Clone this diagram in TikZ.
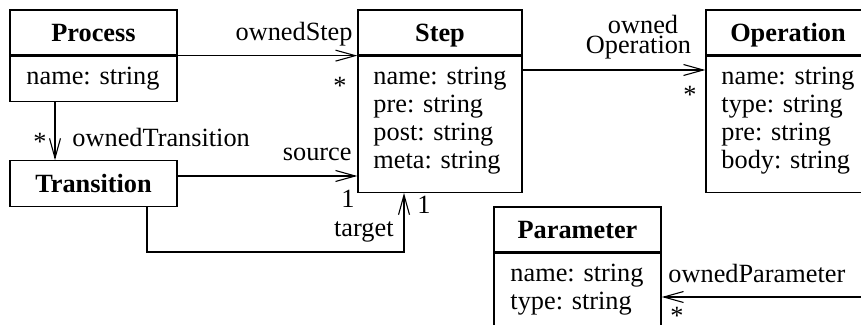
\documentclass[tikz,border=0pt]{standalone}
\usepackage{fontspec}
\setmainfont{Liberation Serif}
\usepackage{tikz}
\usetikzlibrary{arrows.meta,positioning}

\begin{document}
\begin{tikzpicture}[x=0.456pt, y=-0.456pt,
    every node/.style={font=\fontsize{12}{13}\selectfont},
    classhead/.style={draw, rectangle, line width=0.6pt, minimum height=20.5pt, text height=8.2pt, text depth=0pt, font=\fontsize{12}{13}\selectfont\bfseries},
    classbody/.style={draw, rectangle, line width=0.6pt, anchor=north},
    attr/.style={anchor=base west, inner sep=0pt},
    lbl/.style={inner sep=0pt},
    assoc/.style={line width=0.5pt, -{Straight Barb[length=9pt, width=5pt]}}]
    \useasboundingbox (0,0) rectangle (861,324);

    % Classes
    \node[classhead, minimum width=76.2pt] (process) at (93.5, 32.5) {Process};
    \node[classbody, minimum width=76.2pt, minimum height=20.5pt] (processbody) at (process.south) {};
    \node[attr] (processattr) at (26, 84) {name: string};

    \node[classhead, minimum width=76.2pt, minimum height=20.7pt] (transition) at (93.5, 183.5) {Transition};

    \node[classhead, minimum width=74.8pt] (step) at (440, 32.5) {Step};
    \node[classbody, minimum width=74.8pt, minimum height=62pt] (stepbody) at (step.south) {};
    \foreach \i/\a in {0/name, 1/pre, 2/post, 3/meta} {
        \node[attr] (stepattr\i) at (373, 84+28.3*\i) {\a: string};
    }

    \node[classhead, minimum width=74.8pt] (operation) at (788, 32.5) {Operation};
    \node[classbody, minimum width=74.8pt, minimum height=62pt] (opbody) at (operation.south) {};
    \foreach \i/\a in {0/name, 1/type, 2/pre, 3/body} {
        \node[attr] (opattr\i) at (721, 84+28.3*\i) {\a: string};
    }

    \node[classhead, minimum width=76.2pt] (parameter) at (577.5, 229.5) {Parameter};
    \node[classbody, minimum width=76.2pt, minimum height=38.8pt] (parambody) at (parameter.south) {};
    \foreach \i/\a in {0/name, 1/type} {
        \node[attr] (paramattr\i) at (510, 281+28*\i) {\a: string};
    }

    % Turning points
    \coordinate (otx) at (55, 0);
    \coordinate (srcy) at (0, 176);
    \coordinate (tgtstart) at (147, 0);
    \coordinate (tgtturn) at (404, 252);
    \coordinate (opy) at (0, 70);
    \coordinate (parend) at (880, 297);

    % Associations
    \draw[assoc] (process.south east) -- (step.south west);
    \draw[assoc] (processbody.south -| otx) -- (transition.north -| otx);
    \draw[assoc] (transition.east |- srcy) -- (stepbody.west |- srcy);
    \draw[assoc] (transition.south -| tgtstart) |- (tgtturn) -- (tgtturn |- stepbody.south);
    \draw[assoc] (stepbody.east |- opy) -- (opbody.west |- opy);
    \draw[assoc] (parend) -- (parambody.east |- parend);

    % Role names and multiplicities
    \node[lbl, anchor=base east] (ownedsteplbl) at (353, 40) {ownedStep};
    \node[lbl, anchor=base] (ownedstepmult) at (340, 94) {*};
    \node[lbl, anchor=base west] (ownedtranslbl) at (72, 146) {ownedTransition};
    \node[lbl, anchor=base] (ownedtransmult) at (40, 150) {*};
    \node[lbl, anchor=base east] (sourcelbl) at (352, 160) {source};
    \node[lbl, anchor=base] (sourcemult) at (348, 207) {1};
    \node[lbl, anchor=base east] (targetlbl) at (394, 236) {target};
    \node[lbl, anchor=base] (targetmult) at (424, 213) {1};
    \node[lbl, anchor=base] (ownedoplbla) at (643, 33) {owned};
    \node[lbl, anchor=base] (ownedoplblb) at (638.5, 53) {Operation};
    \node[lbl, anchor=base] (ownedopmult) at (690, 103) {*};
    \node[lbl, anchor=base west] (ownedparamlbl) at (668, 282) {ownedParameter};
    \node[lbl, anchor=base] (ownedparammult) at (677, 324) {*};
\end{tikzpicture}
\end{document}
